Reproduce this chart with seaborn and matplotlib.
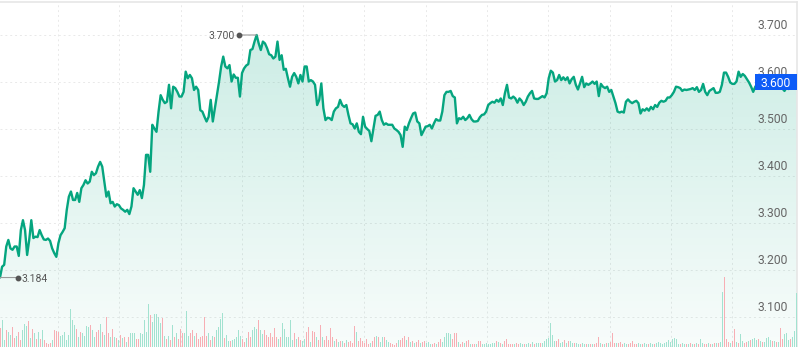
import numpy as np
import matplotlib
matplotlib.use("Agg")
import matplotlib.pyplot as plt
import seaborn as sns
from matplotlib.colors import to_rgb
from matplotlib.patches import Rectangle
from matplotlib.transforms import blended_transform_factory, ScaledTranslation

# intraday price left to right
price = [
    3.184, 3.207, 3.211, 3.250, 3.264, 3.246, 3.243, 3.250, 3.250, 3.230,
    3.285, 3.306, 3.285, 3.232, 3.264, 3.306, 3.268, 3.271, 3.270, 3.285,
    3.274, 3.265, 3.264, 3.267, 3.262, 3.246, 3.236, 3.228, 3.257, 3.274,
    3.281, 3.289, 3.328, 3.356, 3.367, 3.349, 3.349, 3.364, 3.345, 3.374,
    3.381, 3.391, 3.384, 3.388, 3.409, 3.402, 3.406, 3.420, 3.430, 3.420,
    3.388, 3.356, 3.367, 3.342, 3.345, 3.335, 3.340, 3.338, 3.331, 3.328,
    3.324, 3.328, 3.319,
    3.335, 3.374, 3.367, 3.360, 3.370, 3.353, 3.381, 3.445, 3.445, 3.409,
    3.509, 3.501, 3.494, 3.537, 3.572, 3.562, 3.555, 3.558, 3.594, 3.544,
    3.590, 3.587, 3.579, 3.569, 3.569, 3.579, 3.622, 3.608, 3.615, 3.608,
    3.583, 3.590, 3.583, 3.540, 3.537, 3.526, 3.516, 3.526, 3.562, 3.516,
    3.544, 3.572, 3.601, 3.633, 3.654, 3.633, 3.629, 3.636, 3.601, 3.616,
    3.609, 3.609, 3.569, 3.619, 3.629, 3.635, 3.638, 3.668, 3.670, 3.686,
    3.700,
    3.682, 3.668, 3.686, 3.682, 3.672, 3.659, 3.657, 3.650, 3.654, 3.686,
    3.647, 3.657, 3.626, 3.628, 3.608, 3.590, 3.611, 3.619, 3.611, 3.597,
    3.615, 3.601, 3.633, 3.633, 3.601, 3.604, 3.601, 3.594, 3.551, 3.562,
    3.597, 3.544, 3.519, 3.524, 3.523, 3.519, 3.537, 3.544, 3.547, 3.562,
    3.551, 3.547, 3.551, 3.530, 3.512, 3.510, 3.501, 3.512, 3.494, 3.489,
    3.526, 3.505, 3.500, 3.496, 3.474, 3.501, 3.528, 3.530, 3.537, 3.519,
    3.509, 3.512, 3.509, 3.509,
    3.509, 3.501, 3.498, 3.494, 3.487, 3.462, 3.505, 3.498, 3.512, 3.523,
    3.533, 3.535, 3.516, 3.512, 3.487, 3.496, 3.505, 3.506, 3.509, 3.501,
    3.512, 3.521, 3.518, 3.518, 3.537, 3.572, 3.579, 3.579, 3.581, 3.570,
    3.567, 3.512, 3.523, 3.521, 3.526, 3.519, 3.523, 3.530, 3.521, 3.516,
    3.516, 3.517, 3.525, 3.530, 3.531, 3.537, 3.551, 3.555, 3.558, 3.556,
    3.562, 3.558, 3.565, 3.551, 3.576, 3.594, 3.567, 3.565, 3.569, 3.565,
    3.556, 3.565, 3.560, 3.551, 3.558, 3.569, 3.576,
    3.581, 3.565, 3.564, 3.564, 3.567, 3.570, 3.567, 3.576, 3.608, 3.624,
    3.620, 3.601, 3.604, 3.615, 3.604, 3.610, 3.604, 3.610, 3.597, 3.606,
    3.611, 3.594, 3.584, 3.597, 3.611, 3.589, 3.597, 3.594, 3.597, 3.601,
    3.596, 3.601, 3.570, 3.596, 3.590, 3.587, 3.590, 3.579, 3.583, 3.569,
    3.555, 3.537, 3.535, 3.537, 3.535, 3.558, 3.563, 3.558, 3.555, 3.558,
    3.560, 3.555, 3.533, 3.542, 3.539, 3.544, 3.539, 3.547, 3.542, 3.551,
    3.547, 3.556, 3.560, 3.558, 3.560, 3.567,
    3.567, 3.572, 3.579, 3.590, 3.589, 3.587, 3.581, 3.584, 3.583, 3.584,
    3.585, 3.587, 3.583, 3.589, 3.579, 3.583, 3.596, 3.579, 3.572, 3.581,
    3.584, 3.587, 3.577, 3.577, 3.579, 3.594, 3.620, 3.620, 3.611, 3.599,
    3.596, 3.596, 3.601, 3.622, 3.611, 3.617, 3.613, 3.606, 3.599, 3.590,
    3.579, 3.590,
    3.596, 3.600, 3.598, 3.594, 3.597, 3.600, 3.596, 3.592, 3.595, 3.598,
    3.594, 3.590, 3.586, 3.581, 3.588, 3.585, 3.592, 3.596, 3.598, 3.600,
]

# traded volume per bar (arbitrary units)
volume = [
    19, 27, 7, 17, 15, 12, 20, 9, 11, 15,
    7, 17, 23, 21, 26, 9, 18, 14, 8, 15,
    8, 17, 7, 4, 3, 4, 7, 17, 16, 15,
    11, 12, 15, 7, 12, 38, 27, 22, 18, 10,
    15, 14, 11, 21, 20, 22, 17, 10, 15, 17,
    23, 15, 12, 30, 14, 10, 18, 10, 9, 7,
    12, 9, 10, 5, 10, 14, 14, 14, 8, 8,
    14, 13, 27, 15, 43, 32, 25, 33, 33, 30,
    24, 29, 11, 8, 11, 7, 22, 10, 14, 8,
    18, 14, 14, 36, 11, 14, 17, 11, 14, 8,
    10, 11, 30, 11, 14, 7, 11, 10, 17, 20,
    28, 34, 9, 12, 6, 6, 7, 8, 10, 17,
    11, 8, 5, 9, 15, 10, 17, 20, 18, 27,
    17, 13, 17, 12, 10, 14, 10, 19, 10, 8,
    10, 24, 18, 10, 10, 27, 7, 14, 8, 10,
    7, 6, 8, 15, 20, 5, 16, 15, 10, 7,
    22, 10, 7, 11, 7, 19, 10, 6, 8, 5,
    6, 6, 4, 7, 5, 6, 4, 21, 15, 6,
    9, 6, 4, 8, 3, 4, 6, 10, 11, 10,
    5, 10, 10, 7, 5, 4, 3, 2, 4, 7,
    7, 9, 11, 7, 10, 5, 6, 4, 5, 7,
    4, 5, 6, 4, 5, 3, 3, 4, 3, 5,
    8, 5, 10, 14, 14, 13, 8, 14, 14, 5,
    3, 5, 4, 6, 7, 3, 3, 3, 3, 6,
    6, 3, 3, 4, 3, 3, 4, 4, 6, 5,
    4, 3, 6, 8, 3, 3, 3, 3, 4, 3,
    4, 3, 3, 3, 4, 3, 5, 3, 4, 4,
    4, 4, 6, 8, 9, 24, 12, 6, 6, 8,
    4, 5, 7, 4, 6, 6, 4, 4, 4, 3,
    3, 4, 3, 3, 3, 3, 3, 3, 4, 10,
    4, 3, 3, 4, 4, 5, 14, 4, 4, 4,
    5, 3, 4, 3, 3, 4, 6, 3, 3, 4,
    3, 3, 4, 3, 3, 4, 3, 3, 4, 5,
    4, 3, 4, 5, 7, 5, 8, 9, 8, 3,
    3, 4, 3, 3, 3, 4, 3, 3, 4, 3,
    8, 4, 3, 3, 4, 3, 3, 4, 4, 4,
    5, 55, 70, 8, 5, 4, 6, 18, 5, 4,
    13, 6, 4, 5, 6, 7, 8, 9, 7, 8,
    6, 5, 5, 9, 10, 7, 6, 6, 5, 5,
    19, 8, 13, 14, 7, 8, 10, 16, 54,
]
# g = up bar, r = down bar
volume_side = (
    "rggrggrrgr" "rgggrgrgrg" "rgrrrrgrrr" "ggggggggrg" "rggggrggrr"
    "grgrrgrgrg" "rgrgrgggrr" "gggggrgggg" "grgrgrgrgr" "rrgggrrgrr"
    "rrrrgrgrgg" "ggrggrgggg" "grrgrrgggr" "ggrrrrrrrg" "rggggggrgr"
    "rggrrgrrgr" "rgrrrrrgrg" "rgrgrrrrgr" "rrrrrgrrgr" "ggrggrrrrg"
    "rrrgrgrgrr" "grrgggrrgr" "rgggggrrrg" "rrgrrgrrgr" "rgggggggrg"
    "rgrrrrrgrr" "ggrggrgrgg" "rgggggggrr" "ggrgrggrgg" "rggrgrgrrr"
    "grgrgrrrgr" "rrggrrrrrg" "grggrggrgg" "gggggggggg" "rggrgrgrgr"
    "ggrrgrgrgr" "ggrrrgrrgr" "ggrrgrgggr" "grggggrgrg" "rrgggrggg"
)

price_ticks = [3.1, 3.2, 3.3, 3.4, 3.5, 3.6, 3.7]

LINE = "#05a57f"
UP_BAR = "#a2e2d0"
DOWN_BAR = "#f7aeb4"
TEXT = "#666666"
GRID = "#e9e9e9"
TAG = "#0d5cf7"

sns.set_theme(style="white")
plt.rcParams["font.family"] = ["Roboto", "DejaVu Sans"]

fig = plt.figure(figsize=(7.99, 3.47), dpi=100)
rect = [0, 0, 797 / 799, 345 / 347]
ax = fig.add_axes(rect)
axv = fig.add_axes(rect, zorder=ax.get_zorder() + 1)
axv.patch.set_visible(False)

n = len(price)
x = np.arange(n)
ymin, ymax = 3.0362, 3.7702

# soft green gradient under the price line
band = ax.fill_between(x, price, ymin, color="none", lw=0)
rgba = np.zeros((256, 1, 4))
rgba[..., :3] = to_rgb(LINE)
rgba[..., 3] = np.linspace(0.22, 0.03, 256)[:, None]
img = ax.imshow(rgba, extent=[0, n - 1, ymin, ymax], aspect="auto",
                origin="upper", zorder=1)
img.set_clip_path(band.get_paths()[0], transform=ax.transData)

sns.lineplot(x=x, y=price, ax=ax, color=LINE, linewidth=1.7, zorder=3)

# high / low markers
imax = int(np.argmax(price))
imin = int(np.argmin(price))
for i, side in [(imax, -1), (imin, 1)]:
    v = price[i]
    ax.annotate("", xy=(i, v), xytext=(18 * side, 0), textcoords="offset pixels",
                arrowprops=dict(arrowstyle="-", color="#9a9a9a", lw=0.8,
                                shrinkA=0, shrinkB=0), zorder=4)
    ax.plot([i], [v], "o", ms=3.2, color="#555555", zorder=4,
            transform=ax.transData + ScaledTranslation(0.18 * side, 0, fig.dpi_scale_trans))
    ax.annotate(f"{v:.3f}", xy=(i, v), xytext=(22 * side, 0), textcoords="offset pixels",
                ha="right" if side < 0 else "left", va="center_baseline",
                fontsize=7.5, color="#555555")

ax.set_xlim(0, n - 1)
ax.set_ylim(ymin, ymax)
ax.set_yticks(price_ticks)
ax.set_xticks((0.0728 + 0.0769 * np.arange(12)) * (n - 1))
ax.set_axisbelow(True)
ax.grid(True, color=GRID, linestyle=(0, (2, 3)), linewidth=0.7)
ax.tick_params(length=0, labelbottom=False, labelleft=False)
ax.set_xlabel("")
ax.set_ylabel("")
for s in ["left", "bottom"]:
    ax.spines[s].set_visible(False)
for s in ["top", "right"]:
    ax.spines[s].set_color("#e6e6e6")
    ax.spines[s].set_linewidth(1.2)

# volume bars along the bottom
colors = [UP_BAR if s == "g" else DOWN_BAR for s in volume_side]
axv.bar(np.arange(len(volume)), volume, width=0.65, color=colors, linewidth=0)
axv.set_xlim(-0.3, len(volume) - 0.8)
axv.set_ylim(0, max(volume) * 345 / 70)
axv.axis("off")

# right-hand price scale, drawn inside the plot
lab_tr = blended_transform_factory(axv.transAxes, ax.transData)
for t in price_ticks:
    axv.text(1, t, f"{t:.3f}", ha="right", va="baseline", fontsize=8.7, color=TEXT,
             transform=lab_tr + ScaledTranslation(-0.09, 0.057, fig.dpi_scale_trans))

# last price tag (covers the lower half of its scale label, as in the source)
last = price[-1]
dy = (ymax - ymin) / 345 * 8
axv.add_patch(Rectangle((755 / 797, last - dy), 42 / 797, 2 * dy, transform=lab_tr,
                        facecolor=TAG, edgecolor="none", zorder=5, clip_on=False))
axv.text(776 / 797, last, f"{last:.3f}", transform=lab_tr, ha="center",
         va="center_baseline", fontsize=8.7, color="white", zorder=6)

fig.savefig("out.png", dpi=100)
